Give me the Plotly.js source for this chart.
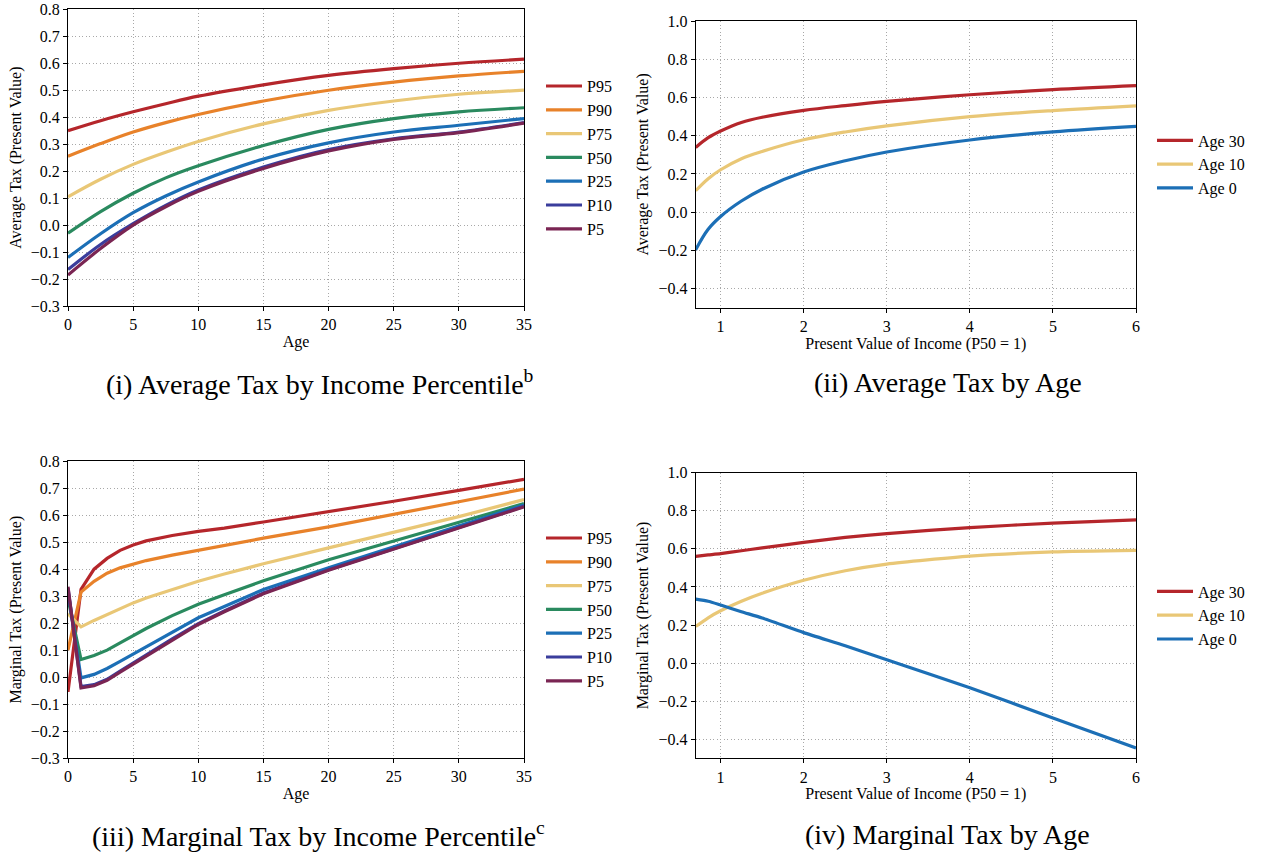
<!DOCTYPE html>
<html>
<head>
<meta charset="utf-8">
<script src="https://cdn.plot.ly/plotly-3.0.1.min.js"></script>
<style>
html,body{margin:0;padding:0;background:#fff;}
#chart{width:1263px;height:854px;}
#chart svg text{font-family:"Liberation Serif","Times New Roman",serif !important;}
</style>
</head>
<body>
<div id="chart"></div>
<script>
// ---------- Data ----------
// (i) Average tax by income percentile, vs age
const agesAvg = [0, 2.5, 5, 7.5, 10, 15, 20, 25, 30, 35];
const avgP95 = [0.350, 0.387, 0.420, 0.450, 0.478, 0.520, 0.555, 0.580, 0.600, 0.615];
const avgP90 = [0.255, 0.302, 0.345, 0.380, 0.410, 0.460, 0.500, 0.530, 0.553, 0.570];
const avgP75 = [0.105, 0.170, 0.225, 0.270, 0.310, 0.375, 0.425, 0.460, 0.485, 0.500];
const avgP50 = [-0.030, 0.050, 0.118, 0.175, 0.220, 0.295, 0.355, 0.395, 0.420, 0.435];
const avgP25 = [-0.120, -0.032, 0.046, 0.108, 0.160, 0.245, 0.305, 0.345, 0.370, 0.395];
const avgP10 = [-0.165, -0.072, 0.005, 0.073, 0.130, 0.215, 0.280, 0.320, 0.345, 0.380];
const avgP5  = [-0.185, -0.087, 0.000, 0.068, 0.125, 0.210, 0.275, 0.318, 0.343, 0.378];

// (iii) Marginal tax by income percentile, vs age
const agesMarg = [0, 1, 2, 3, 4, 5, 6, 8, 10, 12, 15, 20, 25, 30, 35];
const margP95 = [-0.055, 0.325, 0.400, 0.440, 0.470, 0.490, 0.505, 0.525, 0.540, 0.552, 0.575, 0.615, 0.652, 0.692, 0.733];
const margP90 = [0.100, 0.315, 0.355, 0.385, 0.405, 0.420, 0.432, 0.452, 0.470, 0.487, 0.515, 0.557, 0.605, 0.650, 0.697];
const margP75 = [0.235, 0.186, 0.210, 0.232, 0.255, 0.275, 0.293, 0.325, 0.355, 0.382, 0.420, 0.479, 0.537, 0.595, 0.658];
const margP50 = [0.290, 0.065, 0.080, 0.100, 0.127, 0.155, 0.180, 0.228, 0.270, 0.305, 0.357, 0.435, 0.505, 0.575, 0.643];
const margP25 = [0.320, -0.003, 0.010, 0.032, 0.058, 0.085, 0.112, 0.168, 0.220, 0.262, 0.325, 0.405, 0.483, 0.560, 0.638];
const margP10 = [0.330, -0.035, -0.028, -0.008, 0.022, 0.052, 0.082, 0.142, 0.198, 0.245, 0.312, 0.398, 0.476, 0.554, 0.633];
const margP5  = [0.335, -0.040, -0.032, -0.012, 0.018, 0.048, 0.078, 0.138, 0.195, 0.242, 0.309, 0.396, 0.474, 0.552, 0.631];

// (ii) Average tax by age, vs present value of income
const incomePV = [0.7, 0.85, 1, 1.25, 1.5, 2, 2.5, 3, 4, 5, 6];
const avgAge30 = [0.339, 0.390, 0.425, 0.470, 0.497, 0.533, 0.558, 0.580, 0.615, 0.642, 0.663];
const avgAge10 = [0.112, 0.175, 0.222, 0.280, 0.318, 0.379, 0.420, 0.452, 0.500, 0.532, 0.557];
const avgAge0  = [-0.197, -0.090, -0.023, 0.058, 0.120, 0.210, 0.269, 0.315, 0.378, 0.420, 0.449];

// (iv) Marginal tax by age, vs present value of income
const margAge30 = [0.561, 0.568, 0.575, 0.590, 0.605, 0.634, 0.660, 0.680, 0.712, 0.735, 0.752];
const margAge10 = [0.192, 0.238, 0.275, 0.325, 0.367, 0.435, 0.485, 0.520, 0.562, 0.584, 0.592];
const margAge0  = [0.336, 0.325, 0.305, 0.270, 0.237, 0.160, 0.091, 0.018, -0.130, -0.288, -0.446];

const pctLabels = ["P95", "P90", "P75", "P50", "P25", "P10", "P5"];
const ageLabels = ["Age 30", "Age 10", "Age 0"];
const captions = [
  "(i) Average Tax by Income Percentile<sup>b</sup>",
  "(ii) Average Tax by Age",
  "(iii) Marginal Tax by Income Percentile<sup>c</sup>",
  "(iv) Marginal Tax by Age"
];

// ---------- Styles ----------
const pctColors = ["#B5262B", "#E8822A", "#E9C776", "#2A8A5F", "#1C6FB6", "#3A3D9C", "#7A2553"];
const ageColors = ["#B5262B", "#E9C776", "#1C6FB6"];
const FONT = "Liberation Serif";
const LW = 3.2;

const traces = [];
const avgSeries = [avgP95, avgP90, avgP75, avgP50, avgP25, avgP10, avgP5];
const margSeries = [margP95, margP90, margP75, margP50, margP25, margP10, margP5];
avgSeries.forEach((s, i) => traces.push({
  x: agesAvg, y: s, name: pctLabels[i], type: "scatter", mode: "lines",
  line: {color: pctColors[i], width: LW, shape: "spline", smoothing: 1},
  xaxis: "x", yaxis: "y", legend: "legend"
}));
[avgAge30, avgAge10, avgAge0].forEach((s, i) => traces.push({
  x: incomePV, y: s, name: ageLabels[i], type: "scatter", mode: "lines",
  line: {color: ageColors[i], width: LW, shape: "spline", smoothing: 1},
  xaxis: "x2", yaxis: "y2", legend: "legend2"
}));
margSeries.forEach((s, i) => traces.push({
  x: agesMarg, y: s, name: pctLabels[i], type: "scatter", mode: "lines",
  line: {color: pctColors[i], width: LW},
  xaxis: "x3", yaxis: "y3", legend: "legend3"
}));
[margAge30, margAge10, margAge0].forEach((s, i) => traces.push({
  x: incomePV, y: s, name: ageLabels[i], type: "scatter", mode: "lines",
  line: {color: ageColors[i], width: LW, shape: "spline", smoothing: 0.6},
  xaxis: "x4", yaxis: "y4", legend: "legend4"
}));

const W = 1263, H = 854;
const px = v => v / W;
const py = v => 1 - v / H;

const GRID = {gridcolor: "#a8a8a8", griddash: "1px,2.5px", gridwidth: 1};

function xax(domain, range, dtick, tick0, anchor, title) {
  return Object.assign({
    domain: domain, range: range, dtick: dtick, tick0: tick0, anchor: anchor,
    showline: true, mirror: true, linecolor: "#000", linewidth: 1,
    ticks: "outside", ticklen: 4, tickwidth: 1, tickcolor: "#000",
    showgrid: true,
    zeroline: false, tickfont: {family: FONT, size: 16, color: "#000"},
    title: {text: title, font: {family: FONT, size: 16, color: "#000"}, standoff: 3},
    automargin: false
  }, GRID);
}
function yax(domain, range, dtick, tick0, anchor, title) {
  return Object.assign({
    domain: domain, range: range, dtick: dtick, tick0: tick0, anchor: anchor,
    tickformat: ".1f",
    showline: true, mirror: true, linecolor: "#000", linewidth: 1,
    ticks: "outside", ticklen: 4, tickwidth: 1, tickcolor: "#000",
    showgrid: true,
    zeroline: false, tickfont: {family: FONT, size: 16, color: "#000"},
    title: {text: title, font: {family: FONT, size: 16, color: "#000"}, standoff: 5},
    automargin: false
  }, GRID);
}

const dTLx = [px(68), px(524)], dTLy = [py(306), py(9.3)];
const dTRx = [px(695.7), px(1136)], dTRy = [py(307.5), py(21.3)];
const dBLx = [px(68), px(524)], dBLy = [py(758), py(461.3)];
const dBRx = [px(695.7), px(1136)], dBRy = [py(758.3), py(472.7)];

function leg(xp, yp) {
  return {x: px(xp), y: py(yp), xanchor: "left", yanchor: "middle",
    font: {family: FONT, size: 16, color: "#000"}, bgcolor: "rgba(0,0,0,0)",
    borderwidth: 0, itemwidth: 36, tracegroupgap: 0};
}

const capFont = {family: FONT, size: 28, color: "#000"};
const layout = {
  width: W, height: H, margin: {l: 0, r: 0, t: 0, b: 0},
  paper_bgcolor: "#fff", plot_bgcolor: "#fff",
  font: {family: FONT, size: 16, color: "#000"},
  showlegend: true,
  xaxis: xax(dTLx, [0, 35], 5, 0, "y", "Age"),
  yaxis: yax(dTLy, [-0.3, 0.8], 0.1, -0.3, "x", "Average Tax (Present Value)"),
  xaxis2: xax(dTRx, [0.7, 6], 1, 0, "y2", "Present Value of Income (P50 = 1)"),
  yaxis2: yax(dTRy, [-0.5, 1.0], 0.2, -0.4, "x2", "Average Tax (Present Value)"),
  xaxis3: xax(dBLx, [0, 35], 5, 0, "y3", "Age"),
  yaxis3: yax(dBLy, [-0.3, 0.8], 0.1, -0.3, "x3", "Marginal Tax (Present Value)"),
  xaxis4: xax(dBRx, [0.7, 6], 1, 0, "y4", "Present Value of Income (P50 = 1)"),
  yaxis4: yax(dBRy, [-0.5, 1.0], 0.2, -0.4, "x4", "Marginal Tax (Present Value)"),
  legend: leg(541, 157.6),
  legend2: leg(1152, 164.4),
  legend3: leg(541, 609.6),
  legend4: leg(1152, 615.5),
  annotations: [
    {text: captions[0], x: px(320), y: py(383), xref: "paper", yref: "paper", showarrow: false, xanchor: "center", yanchor: "middle", font: capFont},
    {text: captions[1], x: px(948), y: py(383), xref: "paper", yref: "paper", showarrow: false, xanchor: "center", yanchor: "middle", font: capFont},
    {text: captions[2], x: px(318), y: py(834), xref: "paper", yref: "paper", showarrow: false, xanchor: "center", yanchor: "middle", font: capFont},
    {text: captions[3], x: px(948), y: py(834), xref: "paper", yref: "paper", showarrow: false, xanchor: "center", yanchor: "middle", font: capFont}
  ]
};

Plotly.newPlot("chart", traces, layout, {staticPlot: true, displayModeBar: false});
</script>
</body>
</html>
